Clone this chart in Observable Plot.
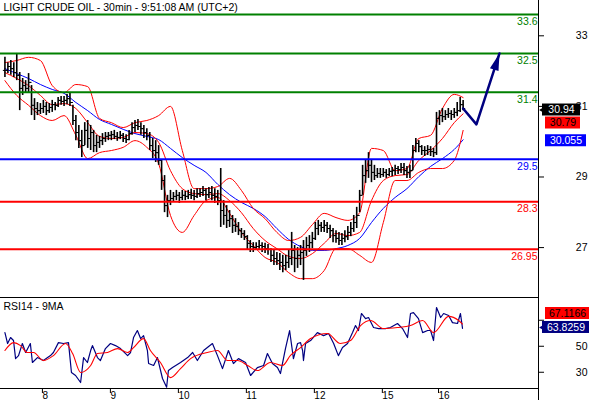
<!DOCTYPE html>
<html><head><meta charset="utf-8">
<script src="https://cdn.jsdelivr.net/npm/d3@7"></script>
<script src="https://cdn.jsdelivr.net/npm/@observablehq/plot@0.6"></script>
<style>
html,body{margin:0;padding:0;background:#fff;}
#chart{width:590px;height:400px;overflow:hidden;background:#fff;}
#chart svg{display:block;}
</style></head><body><div id="chart"></div>
<script>
const title = "LIGHT CRUDE OIL - 30min - 9:51:08 AM (UTC+2)";
const rsiTitle = "RSI14 - 9MA";

// x = trading hours since the first bar
const dayTickHour = [12, 35, 58, 81, 104, 127, 146];
const dayTickLabel = ["8", "9", "10", "11", "12", "15", "16"];
const priceTicks = [27, 29, 31, 33];
const rsiTicks = [30, 50, 70];
const rsiTickLabel = ["30", "50", ""];

// hourly bars (bar i at hour i)
const barHigh = [
32.39,32.24,32.30,32.24,32.50,31.96,31.79,31.73,31.93,31.59,
31.22,31.11,31.08,31.17,31.11,31.08,31.17,31.11,31.25,31.28,
31.28,31.34,31.39,31.03,30.74,30.46,30.32,30.54,30.60,30.46,
30.32,30.18,30.15,30.23,30.26,30.26,30.29,30.32,30.26,30.29,
30.23,30.20,30.32,30.54,30.60,30.63,30.54,30.46,30.37,30.26,
30.09,30.03,29.89,29.47,29.04,28.48,28.62,28.56,28.62,28.56,
28.62,28.59,28.62,28.65,28.62,28.67,28.67,28.73,28.67,28.70,
28.73,28.67,28.62,29.24,28.33,28.19,28.05,27.91,27.82,27.71,
27.54,27.48,27.34,27.20,27.14,27.14,27.20,27.14,27.12,27.09,
26.97,26.92,26.86,26.83,26.78,26.78,26.92,27.43,27.06,27.00,
27.06,27.20,27.29,27.34,27.43,27.71,27.77,27.71,27.77,27.71,
27.63,27.54,27.48,27.43,27.40,27.48,27.60,27.71,27.91,28.14,
28.62,29.33,29.47,29.69,29.47,29.33,29.24,29.24,29.24,29.21,
29.24,29.27,29.33,29.30,29.38,29.38,29.30,29.33,29.89,30.09,
30.03,29.89,29.86,29.89,29.86,29.81,30.83,30.88,30.94,30.88,
30.94,30.88,30.94,31.11,31.25,31.17];
const barLow = [
31.82,31.93,31.88,31.82,31.73,30.88,31.31,31.37,31.39,30.74,
30.60,30.74,30.77,30.80,30.74,30.80,30.83,30.88,30.97,31.03,
31.00,31.05,31.00,30.46,30.03,29.81,29.55,29.89,29.81,29.75,
29.69,29.69,29.81,29.89,29.98,30.03,30.03,30.06,30.01,30.06,
29.98,29.95,30.03,30.18,30.26,30.32,30.18,30.09,30.03,29.75,
29.52,29.41,29.33,28.62,27.99,27.85,28.19,28.28,28.33,28.25,
28.33,28.33,28.36,28.36,28.33,28.39,28.42,28.45,28.33,28.39,
28.33,28.25,28.19,27.57,27.63,27.54,27.57,27.40,27.43,27.34,
27.26,27.20,26.92,26.86,26.86,26.92,26.92,26.86,26.83,26.78,
26.58,26.49,26.49,26.35,26.29,26.35,26.41,26.49,26.29,26.41,
26.49,26.07,26.75,26.86,26.97,27.20,27.34,27.43,27.43,27.40,
27.26,27.14,27.12,27.06,27.06,27.14,27.20,27.31,27.43,27.54,
27.99,28.48,28.82,28.96,28.84,28.90,28.96,28.96,28.99,28.96,
29.01,29.01,29.04,29.07,29.10,29.04,28.96,28.96,29.18,29.69,
29.69,29.61,29.58,29.61,29.58,29.55,29.61,30.46,30.54,30.60,
30.66,30.60,30.66,30.71,30.83,30.88];
const barClose = [
32.02,32.13,32.07,31.96,31.88,31.51,31.59,31.51,31.68,31.03,
30.94,30.88,30.94,31.00,30.88,30.97,31.05,31.03,31.17,31.14,
31.17,31.22,31.11,30.60,30.26,30.03,29.89,30.32,30.09,30.26,
29.89,29.98,30.03,30.09,30.15,30.18,30.20,30.15,30.12,30.18,
30.09,30.06,30.23,30.40,30.46,30.43,30.37,30.26,30.18,29.89,
29.75,29.69,29.47,28.90,28.19,28.33,28.39,28.45,28.48,28.42,
28.48,28.45,28.50,28.48,28.45,28.53,28.56,28.62,28.50,28.56,
28.48,28.45,28.33,28.05,27.91,27.77,27.82,27.63,27.60,27.48,
27.40,27.31,27.12,27.03,27.00,27.03,27.06,27.03,26.97,26.95,
26.78,26.69,26.63,26.58,26.49,26.58,26.69,26.92,26.69,26.78,
26.86,26.92,27.06,27.14,27.26,27.54,27.63,27.57,27.63,27.54,
27.48,27.34,27.26,27.20,27.26,27.31,27.43,27.54,27.71,27.91,
28.48,29.04,29.18,29.33,29.13,29.04,29.10,29.07,29.13,29.07,
29.16,29.18,29.24,29.21,29.27,29.18,29.13,29.18,29.75,29.95,
29.86,29.75,29.75,29.78,29.72,29.69,30.66,30.74,30.71,30.77,
30.80,30.77,30.83,30.88,31.05,30.94];

// Bollinger bands and long moving average, read every 4 hours
const bandHour = [0,4,8,12,16,20,24,28,32,36,40,44,48,52,56,60,64,68,72,76,80,84,88,92,96,100,104,108,112,116,120,124,128,132,136,140,144,148,152,155];
const bbUpper = [32.24,32.30,32.39,32.30,31.59,31.39,31.62,31.56,30.66,30.54,30.40,30.54,30.60,30.74,31.00,29.75,28.67,28.67,28.73,28.96,28.62,28.11,27.82,27.43,27.20,27.29,27.65,27.97,27.85,27.77,27.99,29.81,29.75,29.18,29.24,30.09,30.18,30.94,31.34,31.25];
const bbMiddle = [31.96,31.79,31.59,31.31,31.05,31.08,30.94,30.54,30.15,30.09,30.12,30.26,30.23,29.98,29.18,28.67,28.53,28.50,28.53,28.33,27.99,27.54,27.20,26.97,26.75,26.69,26.83,27.12,27.40,27.34,27.43,28.33,28.90,29.04,29.07,29.47,29.75,30.09,30.54,30.79];
const bbLower = [31.73,31.31,31.03,30.74,30.60,30.74,30.18,29.52,29.69,29.75,29.84,30.03,29.84,29.38,27.91,27.43,27.91,28.33,28.42,27.97,27.43,27.06,26.72,26.58,26.29,26.12,26.12,26.35,26.97,26.97,26.78,26.58,27.71,28.90,28.90,29.13,29.24,29.24,29.47,30.32];
const maLong = [32.07,31.93,31.79,31.62,31.48,31.37,31.11,30.88,30.63,30.49,30.35,30.23,30.15,30.06,29.81,29.55,29.33,29.13,28.79,28.50,28.28,28.11,27.88,27.54,27.23,27.03,26.92,26.92,26.97,27.06,27.26,27.71,28.11,28.42,28.67,29.01,29.30,29.52,29.78,30.055];

// horizontal levels
const levelValue = [33.6, 32.5, 31.4, 29.5, 28.3, 26.95];
const levelLabel = ["33.6", "32.5", "31.4", "29.5", "28.3", "26.95"];
const levelColor = ["#008000", "#008000", "#008000", "#0000ff", "#ff0000", "#ff0000"];

// forecast path
const forecastHour = [155, 159.5, 167.3];
const forecastPrice = [30.94, 30.49, 32.5];

// last-value labels
const lastText = ["30.94", "30.79", "30.055"];
const lastValue = [30.94, 30.79, 30.055];
const rsiLastText = ["67.1166", "63.8259"];
const rsiLastValue = [67.1166, 63.8259];

// RSI(14)
const rsiHour = [0,0.9,1.9,2.9,3.6,4.6,5.9,7.0,8.6,9.3,11.0,13.0,15.4,16.4,18.1,19.8,21.5,22.5,23.9,25.6,26.6,27.9,29.0,29.6,31.3,32.3,34.0,35.7,37.4,39.1,41.5,42.5,43.5,44.8,45.9,46.9,48.2,48.6,50.3,51.6,53.3,54.7,55.3,56.7,59.4,61.8,63.5,65.1,67.2,70.2,71.9,73.6,75.6,77.3,79.0,81.4,83.1,85.4,87.5,88.8,90.5,92.2,93.2,94.9,96.3,97.6,99.0,100.0,100.7,101.0,101.7,103.4,105.7,107.8,109.5,111.2,112.8,114.2,115.9,117.6,118.6,119.6,120.6,122.0,123.0,124.7,126.4,128.7,130.4,132.8,134.5,136.2,137.2,138.2,139.9,141.3,143.0,144.0,145.0,146.0,147.4,148.4,150.1,151.4,153.1,154.1,154.8];
const rsiValue = [60.5,52.1,56.7,54.4,40.5,42.8,52.1,45.2,52.1,37.5,41.3,39.0,42.8,45.2,52.8,52.1,52.8,29.8,27.5,22.1,41.3,37.5,46.7,50.5,41.3,39.0,48.2,52.1,50.5,48.2,42.8,45.2,56.7,62.1,55.9,58.2,46.7,36.7,35.2,41.3,25.2,18.5,31.3,33.6,37.5,41.3,45.2,39.0,46.7,52.1,42.8,32.8,46.7,36.7,40.5,37.5,27.5,33.6,35.2,44.4,36.7,33.6,29.0,48.2,62.1,40.5,52.1,52.8,46.7,39.0,52.1,54.4,60.5,58.2,59.8,52.1,42.8,49.0,52.1,60.5,65.9,62.1,75.2,71.3,72.1,64.4,63.6,63.6,64.4,67.5,63.6,56.7,75.2,75.9,71.3,60.5,62.1,62.1,54.4,79.8,72.1,75.2,73.6,68.2,67.5,75.2,63.8];
// 9-period MA of RSI
const rsiMaHour = [0,2.9,5.3,7.6,9.7,13.0,16.4,20.5,22.9,25.6,29.0,31.3,34.7,38.1,41.5,43.5,46.9,49.2,52.6,56.0,59.4,62.8,68.5,71.9,75.3,78.7,82.1,85.4,89.8,93.9,96.6,100.0,103.4,109.1,113.5,116.9,120.3,123.7,128.1,132.8,137.2,141.3,145.0,150.1,153.4,154.8];
const rsiMaValue = [46.7,52.8,50.5,45.2,45.2,39.0,42.8,52.1,44.4,29.8,35.2,44.4,45.2,48.2,45.2,49.0,55.9,46.7,37.5,25.9,32.8,40.5,45.2,46.7,39.0,39.0,35.2,31.3,37.5,35.2,43.0,49.0,55.9,59.8,52.1,54.4,65.9,69.8,63.6,64.4,65.9,69.8,60.5,73.0,70.0,67.1];

// ---------- build ----------
const font = "'Liberation Sans', Arial, Helvetica, sans-serif";
const xDomain = [-1.5, 180.5];
const xMax = xDomain[1];
const navy = "#000080";

const bars = barClose.map((c, i) => ({h: i, close: c, high: barHigh[i], low: barLow[i], open: i ? barClose[i - 1] : barClose[0]}));
const bands = bandHour.map((h, i) => ({h, up: bbUpper[i], mid: bbMiddle[i], lo: bbLower[i], ma: maLong[i]}));
const levels = levelValue.map((v, i) => ({v, label: levelLabel[i], color: levelColor[i]}));
const forecast = forecastHour.map((h, i) => ({h, p: forecastPrice[i]}));
const rsi = rsiHour.map((h, i) => ({h, v: rsiValue[i]}));
const rsiMa = rsiMaHour.map((h, i) => ({h, v: rsiMaValue[i]}));
const dayLabelByHour = new Map(dayTickHour.map((h, i) => [h, dayTickLabel[i]]));
const rsiLabelByTick = new Map(rsiTicks.map((t, i) => [t, rsiTickLabel[i]]));

// narrow filled arrow head with its tip at the anchor point, pointing up
const arrowHead = {draw(ctx) { ctx.moveTo(0, 0); ctx.lineTo(4.5, 17); ctx.lineTo(-4.5, 17); ctx.closePath(); }};

// value box in the right margin: left/right are px from the axis line
function valueBox(value, text, fill, ink, left, right, shift, pointer) {
  const d = [{v: value}];
  const m = [
    Plot.rect(d, {x1: xMax, x2: xMax, y1: "v", y2: "v", fill,
      insetLeft: left, insetRight: -right, insetTop: shift - 6, insetBottom: -shift - 6})
  ];
  if (pointer) m.push(Plot.dot(d, {x: xMax, y: "v", dx: 6, dy: shift, symbol: "triangle", rotate: -90, r: 3.5, fill, stroke: null}));
  m.push(Plot.text(d, {x: xMax, y: "v", text: () => text, dx: (left + right) / 2, dy: shift, fill: ink, fontSize: 10.5, textAnchor: "middle"}));
  return m;
}

const common = {
  width: 590, marginLeft: 0, marginRight: 52,
  x: {domain: xDomain, axis: null},
  style: {fontFamily: font, fontSize: "10.5px", background: "white", color: "black", overflow: "visible"}
};

const main = Plot.plot({
  ...common,
  height: 297, marginTop: 0, marginBottom: 0,
  y: {domain: [25.586, 34.0], axis: null},
  color: {type: "identity"},
  marks: [
    Plot.line(bands, {x: "h", y: "ma", stroke: "#0000ff", strokeWidth: 1, curve: "monotone-x"}),
    Plot.line(bands, {x: "h", y: "up", stroke: "#ff0000", strokeWidth: 1, curve: "monotone-x"}),
    Plot.line(bands, {x: "h", y: "mid", stroke: "#ff0000", strokeWidth: 1, curve: "monotone-x"}),
    Plot.line(bands, {x: "h", y: "lo", stroke: "#ff0000", strokeWidth: 1, curve: "monotone-x"}),
    Plot.ruleX(bars, {x: "h", y1: "low", y2: "high", stroke: "black", strokeWidth: 1.6}),
    Plot.link(bars, {x1: d => d.h - 0.7, x2: "h", y1: "open", y2: "open", stroke: "black", strokeWidth: 1}),
    Plot.link(bars, {x1: "h", x2: d => d.h + 0.7, y1: "close", y2: "close", stroke: "black", strokeWidth: 1}),
    Plot.ruleY(levels, {y: "v", stroke: "color", strokeWidth: 2}),
    Plot.line(forecast, {x: "h", y: "p", stroke: navy, strokeWidth: 2.5}),
    Plot.dot(forecast.slice(2), {x: "h", y: "p", symbol: arrowHead, rotate: 18, fill: navy, stroke: null}),
    Plot.text(levels, {x: xMax, y: "v", text: "label", fill: "color", textAnchor: "end", dx: -1, dy: 7, fontSize: 10.5}),
    Plot.text([title], {text: d => d, frameAnchor: "top-left", lineAnchor: "top", textAnchor: "start", dx: 3, dy: 3, fill: "black", fontSize: 10.5}),
    Plot.axisY({ticks: priceTicks, anchor: "right", label: null, tickSize: 5, tickPadding: 44, textAnchor: "end", tickFormat: d => String(d), fontSize: 10.5}),
    Plot.ruleX([xMax], {stroke: "black", strokeWidth: 1}),
    ...valueBox(lastValue[0], lastText[0], "black", "white", 4, 42, 1.5, true),
    ...valueBox(lastValue[1], lastText[1], "#ff0000", "black", 7, 42, 9.2, false),
    ...valueBox(lastValue[2], lastText[2], "#0000ff", "white", 7, 48, 1, false)
  ]
});

const rsiPlot = Plot.plot({
  ...common,
  height: 103, marginTop: 0, marginBottom: 12,
  y: {domain: [17.5, 87.5], axis: null},
  marks: [
    Plot.line(rsi, {x: "h", y: "v", stroke: navy, strokeWidth: 1.2}),
    Plot.line(rsiMa, {x: "h", y: "v", stroke: "#ff0000", strokeWidth: 1.1, curve: "monotone-x"}),
    Plot.text([rsiTitle], {text: d => d, frameAnchor: "top-left", lineAnchor: "top", textAnchor: "start", dx: 3, dy: 5, fill: "black", fontSize: 10.5}),
    Plot.axisY({ticks: rsiTicks, anchor: "right", label: null, tickSize: 5, tickPadding: 44, textAnchor: "end", tickFormat: d => rsiLabelByTick.get(d), fontSize: 10.5}),
    Plot.axisX({ticks: dayTickHour, anchor: "bottom", label: null, tickSize: 5, tickPadding: -2, textAnchor: "start", dx: 2, tickFormat: d => dayLabelByHour.get(d), fontSize: 10}),
    Plot.ruleY([87.5], {stroke: "black"}),
    Plot.ruleY([17.5], {stroke: "black"}),
    Plot.ruleX([xMax], {stroke: "black", insetBottom: -12}),
    ...valueBox(rsiLastValue[0], rsiLastText[0], "#ff0000", "black", 7, 51, -10.5, false),
    ...valueBox(rsiLastValue[1], rsiLastText[1], navy, "white", 4, 51, -0.8, true)
  ]
});

const chart = document.getElementById("chart");
chart.appendChild(main);
chart.appendChild(rsiPlot);
</script>
</body></html>
